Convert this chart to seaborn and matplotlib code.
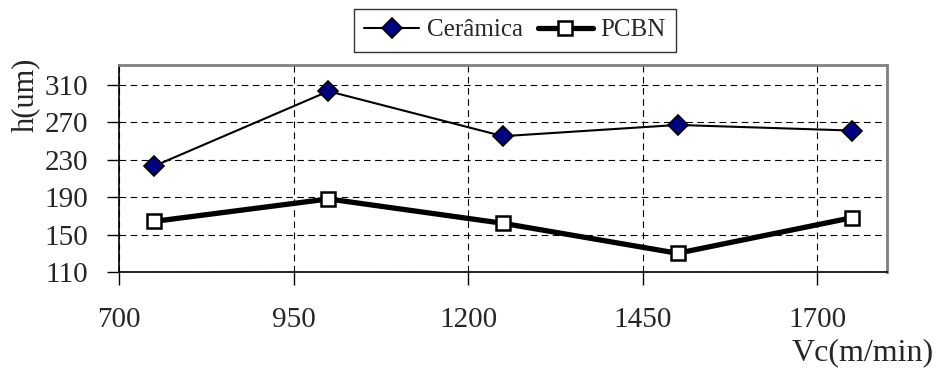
import matplotlib
matplotlib.use("Agg")
import matplotlib.pyplot as plt
import seaborn as sns
import pandas as pd

vc = [750, 1000, 1250, 1500, 1750]
ceramica = [223, 303, 255, 267, 261]
pcbn = [164, 188, 162, 130, 168]
x_ticks = [700, 950, 1200, 1450, 1700]
y_ticks = [110, 150, 190, 230, 270, 310]

sns.set_style("white")
plt.rcParams['font.family'] = ['Liberation Serif', 'DejaVu Serif']

df_c = pd.DataFrame({"Vc": vc, "h": ceramica})
df_p = pd.DataFrame({"Vc": vc, "h": pcbn})

fig = plt.figure(figsize=(9.38, 3.69), dpi=100)
ax = fig.add_axes([119/938, 1-272/369, (887-119)/938, (272-65)/369])

sns.lineplot(data=df_c, x="Vc", y="h", ax=ax, color="black", lw=1.5,
             marker="D", markersize=10, markerfacecolor="#000080",
             markeredgecolor="black", markeredgewidth=1.2, label="Cerâmica")
sns.lineplot(data=df_p, x="Vc", y="h", ax=ax, color="black", lw=3.8,
             marker="s", markersize=10, markerfacecolor="white",
             markeredgecolor="black", markeredgewidth=1.8, label="PCBN")

ax.set_xlim(700, 1800)
ax.set_ylim(110, 331)
ax.set_xticks(x_ticks)
ax.set_yticks(y_ticks)
ax.grid(True, color="black", linestyle=(0, (6, 4)), linewidth=0.8)
ax.tick_params(axis="both", direction="out", length=9, width=1, color="black",
               labelsize=21, left=True, bottom=True)
ax.tick_params(axis="x", pad=16)
ax.tick_params(axis="y", pad=13)
for s in ["top", "right"]:
    ax.spines[s].set_color("#808080")
    ax.spines[s].set_linewidth(2)
for s in ["left", "bottom"]:
    ax.spines[s].set_color("black")
    ax.spines[s].set_linewidth(1.2)
ax.set_xlabel("")
ax.set_ylabel("")

ax.legend_.remove()
handles, labels = ax.get_legend_handles_labels()
leg = fig.legend(handles, labels, loc="upper center", bbox_to_anchor=(515/938, 1-9/369),
                 ncol=2, fontsize=18, frameon=True, fancybox=False, edgecolor="black",
                 handlelength=2.2, handletextpad=0.3, columnspacing=0.6,
                 borderpad=0.4, borderaxespad=0)
leg.get_frame().set_linewidth(1)

fig.text(25/938, 1-95/369, "h(um)", rotation=90, ha="center", va="center", fontsize=22)
fig.text(934/938, 1-360/369, "Vc(m/min)", ha="right", va="baseline", fontsize=23)

fig.savefig("out.png", dpi=100)
